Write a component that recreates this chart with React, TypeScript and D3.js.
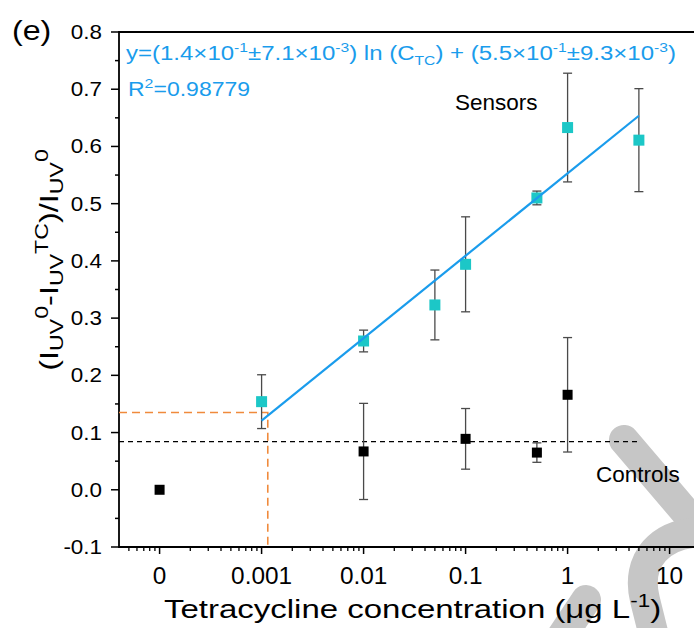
import React from "react";
import * as d3 from "d3";

// sensor data (ug/L)
const sensorConc = [0.001, 0.01, 0.05, 0.1, 0.5, 1, 5];
const sensorMeans = [0.154, 0.26, 0.323, 0.394, 0.51, 0.633, 0.611];
const sensorErrors = [0.047, 0.019, 0.061, 0.083, 0.012, 0.095, 0.09];

// controls, 0 is drawn at the "0" slot on the log axis
const controlConc = [0, 0.01, 0.1, 0.5, 1];
const controlMeans = [0.0, 0.067, 0.089, 0.065, 0.166];
const controlErrors = [0, 0.084, 0.053, 0.017, 0.1];

const controlLevel = 0.084;
const lodSignal = 0.135;
const lodConc = 0.00115;

// linear fit vs log10(C)
const fitSlope = 0.144;
const fitIntercept = 0.553;
const fitRange = [0.001, 5];

const xMajorTicks = [1e-4, 1e-3, 1e-2, 1e-1, 1, 10];
const xTickLabels = ["0", "0.001", "0.01", "0.1", "1", "10"];
const zeroSlot = 1e-4;
const yTicks = [-0.1, 0, 0.1, 0.2, 0.3, 0.4, 0.5, 0.6, 0.7, 0.8];

const W = 694;
const H = 628;
const left = 119;
const top = 32;
const bottom = 547;
const decade = 102;

const FONT = "'Liberation Sans', Arial, sans-serif";
const CYAN = "#1cc7c7";
const BLUE = "#1a9cec";
const ORANGE = "#f08a3c";
const ERR = "#4a4a4a";

// text stretched along its reading direction, like the source figure
const wide = (x: number, y: number, sx: number, rot = 0) =>
  `translate(${x},${y}) rotate(${rot}) scale(${sx},1)`;

export default function App() {
  const xMin = 4e-5;
  const xMax = 22;
  const x = d3
    .scaleLog()
    .domain([xMin, xMax])
    .range([left, left + decade * (Math.log10(xMax) - Math.log10(xMin))]);
  const y = d3.scaleLinear().domain([-0.1, 0.8]).range([bottom, top]);
  const xPos = (c: number) => x(c === 0 ? zeroSlot : c);

  const xMinor: number[] = [];
  for (let e = -5; e <= 1; e++) {
    for (let m = 2; m <= 9; m++) {
      const v = m * Math.pow(10, e);
      if (v > xMin && v < xMax) xMinor.push(v);
    }
  }
  const yMinor = d3.range(-0.05, 0.8, 0.1);

  const fitLine = d3
    .line<number>()
    .x((c) => x(c))
    .y((c) => y(fitSlope * Math.log10(c) + fitIntercept));

  const half = 5.5;
  const cap = 4.5;

  return (
    <svg
      width={W}
      height={H}
      style={{ position: "absolute", left: 0, top: 0, background: "#fff" }}
      fontFamily={FONT}
    >
      <rect width={W} height={H} fill="#fff" />

      {/* grey watermark strokes */}
      <g fill="none" stroke="#c6c6c6" strokeWidth={30} strokeLinecap="round">
        <path d="M624 440 L705 535" />
        <path d="M705 532 C660 532 635 560 645 600 L655 640" />
        <path d="M586 600 L556 645" />
      </g>

      {/* frame */}
      <line x1={left} x2={W} y1={top} y2={top} stroke="#000" strokeWidth={1.8} />
      <line x1={left} x2={left} y1={top - 1} y2={bottom + 1} stroke="#000" strokeWidth={1.8} />
      <line x1={left} x2={W} y1={bottom} y2={bottom} stroke="#000" strokeWidth={1.8} />

      {/* y ticks */}
      {yTicks.map((t) => (
        <g key={"y" + t}>
          <line x1={left - 8} x2={left} y1={y(t)} y2={y(t)} stroke="#000" strokeWidth={1.5} />
          <text transform={wide(102, y(t), 1.15)} dy="0.36em" textAnchor="end" fontSize={19.5}>
            {t.toFixed(1)}
          </text>
        </g>
      ))}
      {yMinor.map((t) => (
        <line key={"ym" + t} x1={left - 4} x2={left} y1={y(t)} y2={y(t)} stroke="#000" strokeWidth={1.5} />
      ))}

      {/* x ticks */}
      {xMajorTicks.map((t, i) => (
        <g key={"x" + t}>
          <line x1={x(t)} x2={x(t)} y1={bottom} y2={bottom + 7} stroke="#000" strokeWidth={1.5} />
          <text transform={wide(x(t), 584, 1.06)} textAnchor="middle" fontSize={23}>
            {xTickLabels[i]}
          </text>
        </g>
      ))}
      {xMinor.map((t) => (
        <line key={"xm" + t} x1={x(t)} x2={x(t)} y1={bottom} y2={bottom + 4} stroke="#000" strokeWidth={1.3} />
      ))}

      {/* reference lines */}
      <line
        x1={left}
        x2={640}
        y1={y(controlLevel)}
        y2={y(controlLevel)}
        stroke="#000"
        strokeWidth={1.2}
        strokeDasharray="5,4"
      />
      <polyline
        points={`${left},${y(lodSignal)} ${x(lodConc)},${y(lodSignal)} ${x(lodConc)},${bottom}`}
        fill="none"
        stroke={ORANGE}
        strokeWidth={1.6}
        strokeDasharray="8,5"
      />

      {/* controls */}
      {controlConc.map((c, i) =>
        controlErrors[i] > 0 ? (
          <g key={"ce" + i} stroke={ERR} strokeWidth={1.3}>
            <line x1={xPos(c)} x2={xPos(c)} y1={y(controlMeans[i] + controlErrors[i])} y2={y(controlMeans[i] - controlErrors[i])} />
            <line x1={xPos(c) - cap} x2={xPos(c) + cap} y1={y(controlMeans[i] + controlErrors[i])} y2={y(controlMeans[i] + controlErrors[i])} />
            <line x1={xPos(c) - cap} x2={xPos(c) + cap} y1={y(controlMeans[i] - controlErrors[i])} y2={y(controlMeans[i] - controlErrors[i])} />
          </g>
        ) : null
      )}
      {controlConc.map((c, i) => (
        <rect key={"cp" + i} x={xPos(c) - 5} y={y(controlMeans[i]) - 5} width={10} height={10} fill="#000" />
      ))}

      {/* sensors */}
      {sensorConc.map((c, i) => (
        <g key={"se" + i} stroke={ERR} strokeWidth={1.3}>
          <line x1={x(c)} x2={x(c)} y1={y(sensorMeans[i] + sensorErrors[i])} y2={y(sensorMeans[i] - sensorErrors[i])} />
          <line x1={x(c) - cap} x2={x(c) + cap} y1={y(sensorMeans[i] + sensorErrors[i])} y2={y(sensorMeans[i] + sensorErrors[i])} />
          <line x1={x(c) - cap} x2={x(c) + cap} y1={y(sensorMeans[i] - sensorErrors[i])} y2={y(sensorMeans[i] - sensorErrors[i])} />
        </g>
      ))}
      {sensorConc.map((c, i) => (
        <rect key={"sp" + i} x={x(c) - half} y={y(sensorMeans[i]) - half} width={half * 2} height={half * 2} fill={CYAN} />
      ))}

      <path d={fitLine(fitRange) || ""} fill="none" stroke={BLUE} strokeWidth={2.2} />

      {/* annotations */}
      <text transform={wide(126, 60, 1.16)} fill={BLUE} fontSize={20.7}>
        y=(1.4×10<tspan dy={-8} fontSize={13.5}>-1</tspan>
        <tspan dy={8}>±7.1×10</tspan>
        <tspan dy={-8} fontSize={13.5}>-3</tspan>
        <tspan dy={8}>) ln (C</tspan>
        <tspan dy={5} fontSize={13.5}>TC</tspan>
        <tspan dy={-5}>) + (5.5×10</tspan>
        <tspan dy={-8} fontSize={13.5}>-1</tspan>
        <tspan dy={8}>±9.3×10</tspan>
        <tspan dy={-8} fontSize={13.5}>-3</tspan>
        <tspan dy={8}>)</tspan>
      </text>
      <text transform={wide(128, 96, 1.18)} fill={BLUE} fontSize={19.5}>
        R<tspan dy={-8} fontSize={13.5}>2</tspan>
        <tspan dy={8}>=0.98779</tspan>
      </text>
      <text x={455} y={110} fontSize={22.5}>Sensors</text>
      <text x={596} y={482} fontSize={22.5}>Controls</text>
      <text transform={wide(12, 40, 1.15)} fontSize={28}>(e)</text>

      {/* axis titles */}
      <text transform={wide(164, 618, 1.245)} fontSize={26.5}>
        Tetracycline concentration (μg L<tspan dy={-11} fontSize={18}>-1</tspan>
        <tspan dy={11}>)</tspan>
      </text>
      <text transform={wide(58, 260, 1.25, -90)} textAnchor="middle" fontSize={26}>
        (I<tspan dy={5} fontSize={18.5}>UV</tspan>
        <tspan dy={-15} fontSize={18.5}>0</tspan>
        <tspan dy={10}>-I</tspan>
        <tspan dy={5} fontSize={18.5}>UV</tspan>
        <tspan dy={-15} fontSize={18.5}>TC</tspan>
        <tspan dy={10}>)/I</tspan>
        <tspan dy={5} fontSize={18.5}>UV</tspan>
        <tspan dy={-15} fontSize={18.5}>0</tspan>
      </text>
    </svg>
  );
}
